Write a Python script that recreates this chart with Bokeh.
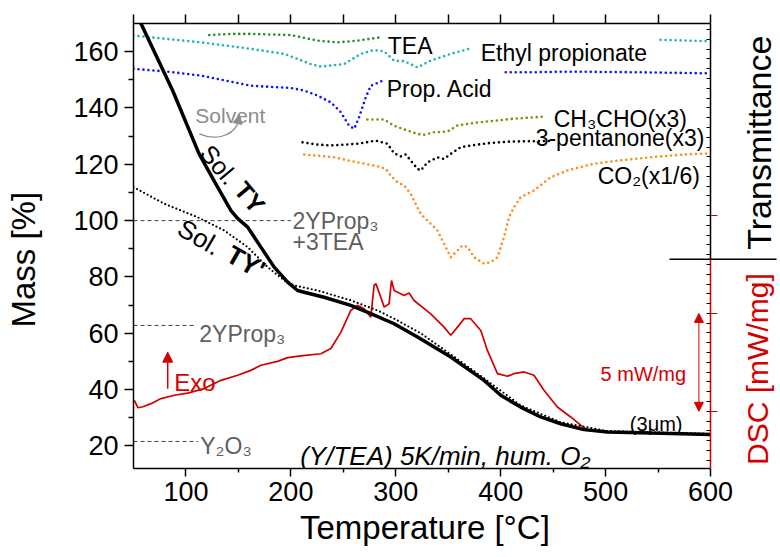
from math import pi, nan
from bokeh.plotting import figure
from bokeh.models import Range1d, LinearAxis, FixedTicker, Arrow, NormalHead
from bokeh.core.properties import value
from bokeh.embed import file_html
from bokeh.resources import INLINE

FONT = "Liberation Sans"
RED = "#d40000"
GRAY = "#5f5f5f"
LIGHT_GRAY = "#8c8c8c"

# ---------------- thermogravimetry: mass [%] ----------------
ty_temp = [55, 57.1, 87.3, 112.4, 126.7, 142.9, 149.2, 158.8, 171.4, 184.1, 196.9, 206.4,
           212.7, 231.7, 257.1, 276.2, 298.4, 320.7, 352.4, 384.1, 400.0, 419.0, 438.1,
           457.1, 479.3, 501.6, 542.9, 600.0]
ty_mass = [171.7, 170.0, 146.2, 123.8, 114.2, 103.6, 100.8, 97.7, 90.6, 83.5, 78.2, 75.2,
           74.6, 72.8, 69.9, 67.0, 63.4, 58.7, 51.6, 43.3, 38.0, 33.8, 30.3,
           27.9, 25.8, 25.0, 24.6, 24.1]

ty2_temp = [50.0, 79.3, 111.1, 136.5, 158.8, 177.8, 193.6, 203.1, 225.4, 257.1, 282.6,
            298.4, 323.8, 352.4, 384.1, 419.0, 457.1, 501.6, 600.0]
ty2_mass = [111.9, 106.0, 101.2, 96.5, 90.6, 83.5, 78.8, 77.0, 75.2, 71.7, 68.1,
            65.2, 60.0, 52.5, 44.0, 34.4, 28.4, 25.3, 24.3]

# ---------------- DSC signal [mW/mg], arbitrary offset ----------------
dsc_temp = [50.8, 54.3, 59.0, 66.7, 76.2, 88.9, 101.6, 117.4, 133.3, 149.2, 161.9, 171.4,
            187.3, 196.9, 209.5, 228.6, 238.1, 247.6, 257.1, 263.5, 269.8, 276.2, 279.3,
            281.0, 285.7, 288.9, 293.6, 295.9, 298.4, 307.9, 312.7, 317.4, 333.3, 346.0,
            352.4, 358.8, 365.0, 371.4, 381.0, 387.3, 396.9, 406.4, 412.7, 422.2, 431.7,
            441.2, 454.0, 466.7, 476.2, 483.1]
dsc_signal = [0.56, 0.18, 0.23, 0.39, 0.65, 0.82, 0.93, 1.16, 1.58, 1.84, 2.09, 2.35,
              2.55, 2.74, 2.83, 2.94, 3.21, 4.03, 5.15, 5.41, 5.24, 4.81, 6.43,
              6.52, 5.83, 5.32, 5.49, 6.68, 6.17, 5.92, 6.04, 5.66, 4.98, 4.30,
              3.88, 4.30, 4.73, 4.73, 4.13, 3.11, 1.92, 1.79, 1.92, 2.01, 1.84,
              1.07, 0.22, -0.29, -0.71, -0.97]

# ---------------- evolved gas IR traces (transmittance, stacked) ----------------
tea_temp = [122.2, 142.9, 161.9, 200.0, 225.4, 244.5, 263.5, 285.7]
tea_tr = [165.9, 166.3, 166.3, 165.9, 163.9, 163.3, 163.9, 165.1]

ethprop_temp = [50.0, 114.3, 161.9, 193.6, 219.0, 228.6, 250.8, 266.7, 279.3, 288.9, 298.4,
                307.9, 320.7, 333.3, 352.4, 369.8, nan, 552.4, 600.0]
ethprop_tr = [165.7, 163.3, 161.0, 159.2, 155.6, 154.7, 155.6, 159.2, 160.6, 160.1, 156.8,
              156.6, 154.4, 156.8, 159.2, 161.0, nan, 164.2, 163.7]

propacid_temp = [50.0, 82.6, 114.3, 161.9, 200.0, 212.7, 225.4, 238.1, 247.6, 255.5, 260.3,
                 265.0, 271.4, 276.2, 287.3, nan, 404.8, 431.7, 463.5, 527.0, 600.0]
propacid_tr = [153.9, 152.9, 151.5, 147.9, 147.1, 146.2, 144.4, 142.0, 138.5, 133.7, 132.6,
               136.7, 143.8, 147.9, 149.7, nan, 152.7, 152.7, 152.9, 152.7, 152.3]

acetald_temp = [273.0, 288.9, 298.4, 311.1, 320.7, 326.9, 336.5, 349.2, 358.8, 377.8, 390.5,
                409.5, 439.7]
acetald_tr = [135.9, 135.9, 133.7, 132.0, 130.8, 130.5, 131.4, 131.6, 133.8, 134.9, 135.3,
              136.1, 136.9]

pentanone_temp = [211.1, 225.4, 238.1, 247.6, 263.5, 280.9, 292.1, 298.4, 304.8, 309.5, 314.3,
                  320.7, 323.8, 330.2, 339.7, 346.0, 352.4, 361.9, 377.8, 390.5, 409.5,
                  431.7, 447.6]
pentanone_tr = [127.8, 127.0, 126.7, 126.9, 127.3, 128.4, 127.3, 123.9, 122.8, 123.5, 121.3,
                118.4, 117.8, 120.7, 122.5, 121.9, 123.7, 126.1, 127.0, 127.6, 128.1,
                128.2, 128.3]

co2_temp = [212.7, 241.2, 263.5, 282.6, 290.5, 295.2, 301.6, 307.9, 314.3, 317.4, 323.8,
            330.2, 339.7, 346.0, 352.4, 358.8, 363.5, 368.3, 374.6, 384.1, 390.5, 396.9,
            403.1, 407.9, 412.7, 419.0, 431.7, 447.6, 463.5, 488.9, 511.1, 542.9, 574.6,
            600.0]
co2_tr = [123.5, 122.5, 120.7, 119.3, 118.4, 116.0, 113.6, 112.5, 109.5, 107.1, 102.4,
          100.0, 96.5, 91.8, 87.0, 89.4, 91.2, 90.6, 87.0, 84.7, 85.3, 87.0,
          94.1, 101.2, 104.8, 108.3, 110.7, 115.4, 117.8, 120.2, 121.3, 122.5, 123.5,
          123.9]

# ---------------- calculated residual masses ----------------
ref_mass = [100.0, 62.8, 21.6]
ref_line_end = [200.0, 109.5, 111.4]

# ---------------- ticks ----------------
x_major = [100, 200, 300, 400, 500, 600]
x_minor = [150, 250, 350, 450, 550]
top_ticks = [50, 100, 150, 200, 250, 300, 350, 400, 450, 500, 550, 600]
y_major = [20, 40, 60, 80, 100, 120, 140, 160]
y_minor = [30, 50, 70, 90, 110, 130, 150]
dsc_major = [0, 5, 10]
dsc_minor = [i * 0.5 for i in range(-5, 40)]

T_MIN, T_MAX = 50, 600
T_PANEL_END = 666.67   # room right of the data for the right-hand titles
MASS_RANGE = (12, 170)
DSC_RANGE = (-2.923, 19.81)
DSC_SPLIT = 7.77       # where the DSC part of the right-hand scale begins
MASS_SPLIT = 86.32     # same level on the mass scale
NBSP = "\u00a0"

p = figure(width=780, height=557, x_range=Range1d(T_MIN, T_PANEL_END),
           y_range=Range1d(*MASS_RANGE),
           output_backend="svg", toolbar_location=None,
           min_border_left=133, min_border_right=0, min_border_top=23, min_border_bottom=89,
           outline_line_color=None, background_fill_color="white", border_fill_color="white")
p.grid.visible = False
p.extra_y_ranges = {"dsc": Range1d(*DSC_RANGE)}


def style_axis(ax):
    ax.axis_line_width = 1.5
    ax.axis_line_color = "black"
    ax.major_tick_line_width = 1.5
    ax.minor_tick_line_width = 1.5
    ax.major_tick_line_color = "black"
    ax.minor_tick_line_color = "black"
    ax.major_label_text_font = FONT
    ax.major_label_text_color = "black"
    ax.axis_label_text_font = FONT
    ax.axis_label_text_font_style = "normal"
    ax.axis_label_text_color = "black"


def hide_labels(ax):
    ax.major_label_text_font_size = "0px"
    ax.major_label_text_color = None
    ax.major_label_standoff = 0


xa = p.xaxis[0]
style_axis(xa)
xa.bounds = (T_MIN, T_MAX)
xa.ticker = FixedTicker(ticks=x_major, minor_ticks=x_minor)
xa.major_tick_out, xa.major_tick_in = 8, 0
xa.minor_tick_out, xa.minor_tick_in = 4, 0
xa.major_label_text_font_size = "27px"
xa.major_label_standoff = 5
# trailing no-break spaces centre the title under the temperature scale
xa.axis_label = "Temperature [°C]" + NBSP * 7
xa.axis_label_text_font_size = "33px"
xa.axis_label_standoff = 5

ya = p.yaxis[0]
style_axis(ya)
ya.ticker = FixedTicker(ticks=y_major, minor_ticks=y_minor)
ya.major_tick_out, ya.major_tick_in = 9, 0
ya.minor_tick_out, ya.minor_tick_in = 5, 0
ya.major_label_text_font_size = "27px"
ya.major_label_standoff = 6
ya.axis_label = "Mass [%]" + NBSP * 3
ya.axis_label_text_font_size = "33px"
ya.axis_label_standoff = 28

top = LinearAxis(ticker=FixedTicker(ticks=top_ticks, minor_ticks=[]), bounds=(T_MIN, T_MAX))
style_axis(top)
top.major_tick_out, top.major_tick_in = 9, 0
top.minor_tick_out, top.minor_tick_in = 0, 0
hide_labels(top)
p.add_layout(top, "above")

# right-hand scale at T_MAX: upper part (transmittance, black), lower part (DSC, red)
for lo, hi, line_col in [(DSC_SPLIT, DSC_RANGE[1], "black"), (DSC_RANGE[0], DSC_SPLIT, RED)]:
    ax = LinearAxis(y_range_name="dsc", fixed_location=T_MAX, bounds=(lo, hi),
                    ticker=FixedTicker(ticks=[t for t in dsc_major if lo <= t <= hi],
                                       minor_ticks=[t for t in dsc_minor if lo <= t <= hi]))
    style_axis(ax)
    ax.axis_line_color = line_col
    ax.major_tick_line_color = RED
    ax.major_tick_line_width = 1
    ax.major_tick_out, ax.major_tick_in = 0, 7
    ax.minor_tick_line_color = "black"
    ax.minor_tick_line_width = 1
    ax.minor_tick_out, ax.minor_tick_in = 4, 0
    hide_labels(ax)
    p.add_layout(ax, "left")

# separator between the transmittance and DSC titles
p.segment(x0=[560.9], y0=[MASS_SPLIT], x1=[662.9], y1=[MASS_SPLIT],
          line_color="black", line_width=1.5)

# calculated residual mass levels
p.segment(x0=[T_MIN] * len(ref_mass), y0=ref_mass, x1=ref_line_end, y1=ref_mass,
          line_color="#404040", line_width=1, line_dash="4 3")


# IR traces
def dotted(xs, ys, color):
    p.line(xs, ys, line_color=color, line_width=2.6, line_dash="0 5", line_cap="round")


dotted(tea_temp, tea_tr, "#1f8f1f")
dotted(ethprop_temp, ethprop_tr, "#22b2b2")
dotted(propacid_temp, propacid_tr, "#1010ff")
dotted(acetald_temp, acetald_tr, "#8a8a00")
dotted(pentanone_temp, pentanone_tr, "#000000")
dotted(co2_temp, co2_tr, "#ff8c1a")

# DSC
p.line(dsc_temp, dsc_signal, y_range_name="dsc", line_color=RED, line_width=1.7)

# TG
p.line(ty_temp, ty_mass, line_color="black", line_width=3.5)
p.line(ty2_temp, ty2_mass, line_color="black", line_width=2.2, line_dash="0 4", line_cap="round")


def txt(x, y, t, size, color="black", style="normal", align="left", baseline="alphabetic", angle=0.0):
    p.text(x=x, y=y, text=t, text_font=value(FONT), text_font_size=value(size),
           text_color=color, text_font_style=style, text_align=align,
           text_baseline=baseline, angle=angle)


txt([292.4, 381.0, 291.4, 450.5, 433.3, 492.4], [162.1, 159.6, 146.8, 136.1, 129.4, 116.0],
    ["TEA", "Ethyl propionate", "Prop. Acid", "CH\u2083CHO(x3)", "3-pentanone(x3)", "CO\u2082(x1/6)"],
    "23px")
txt([201.6, 201.6, 112.7, 113.6], [100.0, 92.4, 59.9, 20.0],
    ["2YProp\u2083", "+3TEA", "2YProp\u2083", "Y\u2082O\u2083"], "23px", color=GRAY)
txt([108.9], [137.3], ["Solvent"], "21px", color=LIGHT_GRAY)
txt([88.9], [42.7], ["Exo"], "24px", color=RED)
txt([495.2], [45.7], ["5 mW/mg"], "20px", color=RED)
txt([523.1], [27.7], ["(3\u03bcm)"], "20px")
txt([208.9], [16.3], ["(Y/TEA) 5K/min, hum. O\u2082"], "26px", style="italic")

a1 = -50 * pi / 180
txt([131.7], [119.9], ["Sol."], "25px", align="center", baseline="middle", angle=a1)
txt([161.0], [108.3], ["TY"], "25px", style="bold", align="center", baseline="middle", angle=a1)
a2 = -30 * pi / 180
txt([112.7], [94.1], ["Sol."], "26px", align="center", baseline="middle", angle=a2)
txt([157.1], [85.3], ["TY'"], "26px", style="bold", align="center", baseline="middle", angle=a2)

# right-hand titles
txt([646.2], [127.7], ["Transmittance"], "34px", align="center", baseline="middle", angle=pi / 2)
txt([644.8], [47.3], ["DSC [mW/mg]"], "30px", color=RED, align="center", baseline="middle",
    angle=pi / 2)

# solvent release arrow
p.bezier(x0=[112.7], y0=[130.8], x1=[149.0], y1=[134.1], cx0=[127.6], cy0=[128.4],
         cx1=[142.9], cy1=[129.9], line_color=LIGHT_GRAY, line_width=1.2)
p.add_layout(Arrow(end=NormalHead(size=9, fill_color=LIGHT_GRAY, line_color=LIGHT_GRAY),
                   x_start=149.0, y_start=134.1, x_end=151.0, y_end=137.6,
                   line_color=LIGHT_GRAY, line_width=1.2))

# exothermic direction
p.add_layout(Arrow(end=NormalHead(size=10, fill_color=RED, line_color=RED),
                   x_start=82.6, y_start=40.3, x_end=82.6, y_end=53.3,
                   line_color=RED, line_width=1.5))

# 5 mW/mg scale bar on the DSC scale
p.add_layout(Arrow(start=NormalHead(size=9, fill_color=RED, line_color=RED),
                   end=NormalHead(size=9, fill_color=RED, line_color=RED),
                   x_start=588.9, y_start=0, x_end=588.9, y_end=5, y_range_name="dsc",
                   line_color=RED, line_width=1))

open("out.html", "w").write(file_html(p, INLINE))
